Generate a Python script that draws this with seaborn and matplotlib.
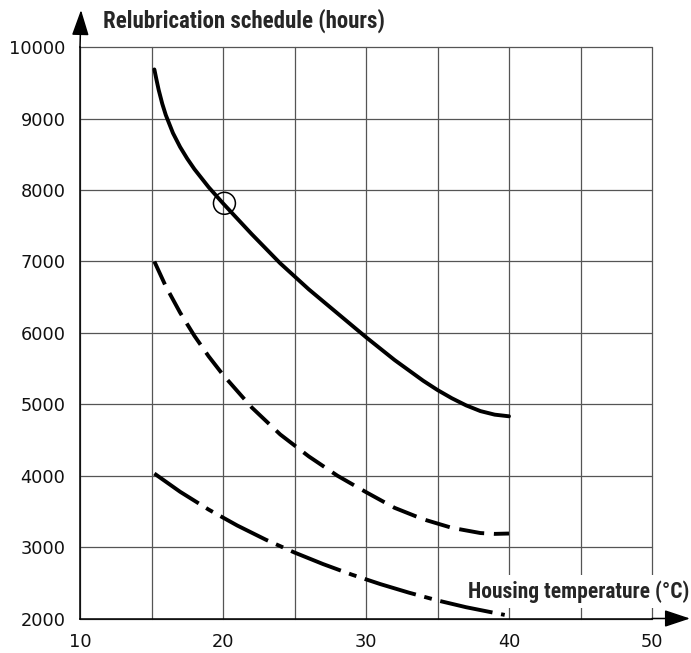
import numpy as np
import pandas as pd
import seaborn as sns
import matplotlib.pyplot as plt

#Curve data (housing temperature in C, relubrication in hours)
solid_x = [15.2, 15.35, 15.5, 15.75, 16, 16.5, 17, 17.5, 18, 19, 20, 22, 24, 26, 28, 30, 32, 34,
           35, 36, 37, 38, 39, 40]
solid_y = [9690, 9544, 9405, 9211, 9051, 8799, 8604, 8440, 8294, 8040, 7815, 7385, 6975, 6610,
           6275, 5940, 5620, 5330, 5200, 5085, 4985, 4905, 4855, 4832]

dashed_x = [15.2, 16, 17, 18, 19, 20, 22, 24, 26, 28, 30, 32, 34, 36, 38, 39, 40]
dashed_y = [7000, 6652, 6284, 5959, 5671, 5413, 4958, 4578, 4270, 4000, 3770, 3550, 3390, 3270,
            3197, 3185, 3190]

dashdot_x = [15.2, 17, 19, 21, 23, 25, 27, 29, 31, 33, 35, 37, 39.7]
dashdot_y = [4030, 3775, 3525, 3302, 3103, 2924, 2762, 2615, 2482, 2362, 2253, 2158, 2050]

marker_x = [20.1]
marker_y = [7815]

x_ticks = [10, 15, 20, 25, 30, 35, 40, 45, 50]
x_labels = ['10', '', '20', '', '30', '', '40', '', '50']
y_ticks = [2000, 3000, 4000, 5000, 6000, 7000, 8000, 9000, 10000]

y_title = 'Relubrication schedule (hours)'
x_title = 'Housing temperature (°C)'

sns.set_style('white')
plt.rcParams['font.family'] = ['DejaVu Sans']
title_font = ['Roboto Condensed', 'Lato', 'DejaVu Sans']

W, H = 691, 653
fig = plt.figure(figsize=(W / 100, H / 100), dpi=100)
ax = fig.add_axes([80 / W, 1 - 618.5 / H, (652 - 80) / W, (618.5 - 47.3) / H])

#Curves
lw = 2.8
sns.lineplot(x=solid_x, y=solid_y, ax=ax, color='black', lw=lw, estimator=None, sort=False)
sns.lineplot(x=dashed_x, y=dashed_y, ax=ax, color='black', lw=lw, estimator=None, sort=False,
             linestyle=(0, (6.5, 2.5)))
sns.lineplot(x=dashdot_x, y=dashdot_y, ax=ax, color='black', lw=lw, estimator=None, sort=False,
             linestyle=(0, (13.75, 2.25, 2.0, 2.25)))
sns.scatterplot(x=marker_x, y=marker_y, ax=ax, marker='o', s=250, facecolor='none',
                edgecolor='black', linewidth=1.1, zorder=3)

#Axes, grid
ax.set_xlim(10, 50)
ax.set_ylim(2000, 10000)
ax.set_xticks(x_ticks)
ax.set_xticklabels(x_labels)
ax.set_yticks(y_ticks)
ax.set_yticklabels([str(v) for v in y_ticks])
ax.tick_params(axis='both', length=0, labelsize=12.8, colors='#111111')
ax.tick_params(axis='x', pad=10.5)
ax.tick_params(axis='y', pad=10.5)
ax.set_axisbelow(True)
ax.grid(True, color='#555555', lw=0.9, clip_on=False)
for s in ['top', 'right']:
    ax.spines[s].set_visible(False)
for s in ['left', 'bottom']:
    ax.spines[s].set_color('black')
    ax.spines[s].set_linewidth(1.1)

#Arrows on the axes
arrow = dict(arrowstyle='-|>,head_length=1.05,head_width=0.35', mutation_scale=15,
             color='black', lw=1.1, shrinkA=0, shrinkB=0)
ax.annotate('', xy=(81 / W, 1 - 10 / H), xytext=(80 / W, 1 - 47.3 / H),
            xycoords='figure fraction', textcoords='figure fraction', arrowprops=arrow)
ax.annotate('', xy=(690 / W, 1 - 618.5 / H), xytext=(652 / W, 1 - 618.5 / H),
            xycoords='figure fraction', textcoords='figure fraction', arrowprops=arrow)

#Axis titles
fig.text(103 / W, 1 - 28 / H, y_title, ha='left', va='baseline', fontsize=16.5,
         fontweight='bold', family=title_font)
ax.text(468 / W, 1 - 597.7 / H, x_title, transform=fig.transFigure, ha='left', va='baseline',
        fontsize=15.5, fontweight='bold', family=title_font, zorder=1.5, clip_on=False,
        bbox=dict(boxstyle='square,pad=0.25', fc='white', ec='none'))

fig.savefig('out.png', dpi=100)
